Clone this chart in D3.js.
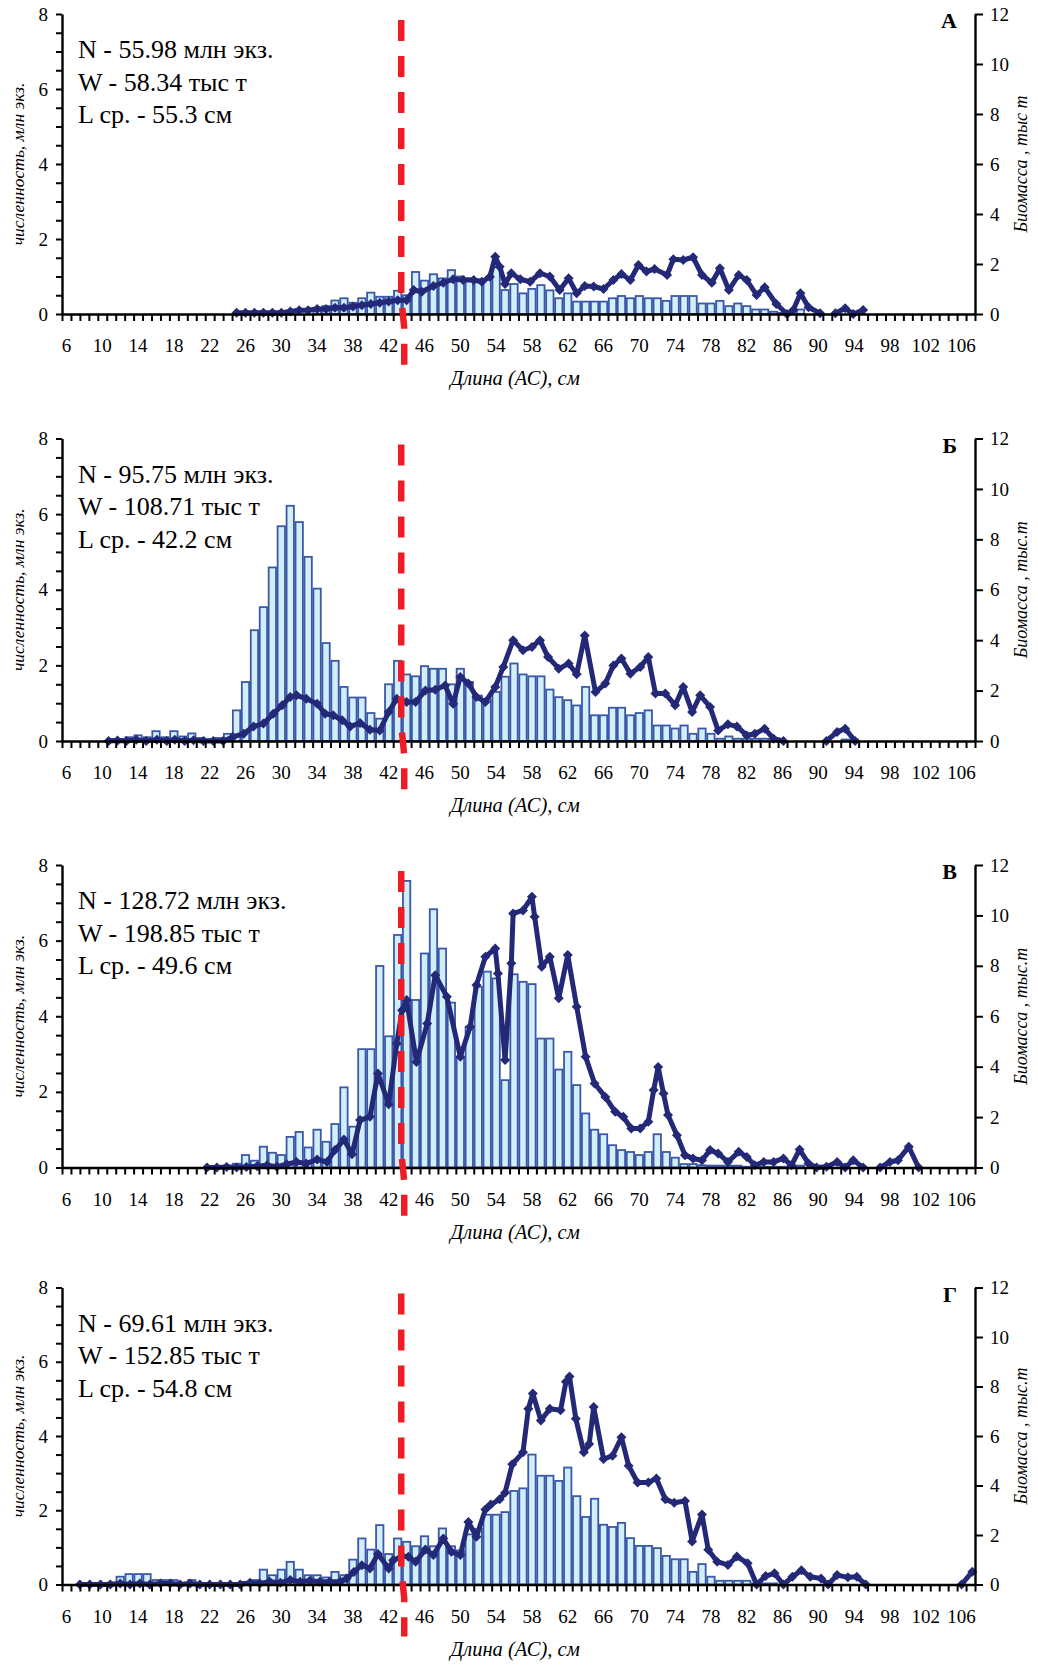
<!DOCTYPE html>
<html><head><meta charset="utf-8">
<script src="https://cdn.jsdelivr.net/npm/d3@7"></script>
<style>body{margin:0;background:#fff}svg{display:block}</style>
</head><body>
<script>
// ---------- DATA ----------
const lengthCategories = d3.range(6, 108);          // 6..107 cm
const xTickLabels = d3.range(6, 107, 4);            // 6,10,...,106
const leftTickValues = d3.range(0, 8.01, 0.5);
const rightTickValues = [0, 2, 4, 6, 8, 10, 12];
const panelLetters = ["А", "Б", "В", "Г"];
const thresholdLength = 43.4;

const statsA = ["N - 55.98 млн экз.", "W - 58.34 тыс т", "L ср. - 55.3 см"];
const statsB = ["N - 95.75 млн экз.", "W - 108.71 тыс т", "L ср. - 42.2 см"];
const statsV = ["N - 128.72 млн экз.", "W - 198.85 тыс т", "L ср. - 49.6 см"];
const statsG = ["N - 69.61 млн экз.", "W - 152.85 тыс т", "L ср. - 54.8 см"];

const leftTitle = "численность, млн экз.";
const rightTitles = ["Биомасса , тыс т", "Биомасса , тыс.т", "Биомасса , тыс.т", "Биомасса , тыс.т"];
const xTitle = "Длина (АС), см";

// numbers (млн экз.) per 1-cm class, first class given by start
const countsStartA = 34;
const countsA = [0.12,0.21,0.36,0.42,0.30,0.42,0.57,0.46,0.46,0.62,0.50,1.12,0.89,1.06,0.95,1.17,1.00,0.95,0.92,0.92,1.25,0.64,0.80,0.55,0.67,0.77,0.63,0.42,0.55,0.33,0.33,0.33,0.33,0.42,0.48,0.42,0.48,0.42,0.42,0.35,0.48,0.48,0.48,0.28,0.28,0.35,0.21,0.28,0.21,0.12,0.12,0.06,0.03,0,0.12];
const countsStartB = 11;
const countsB = [0.05,0.05,0.10,0.15,0.10,0.26,0.10,0.26,0.12,0.20,0.08,0.05,0.08,0.19,0.81,1.56,2.93,3.54,4.59,5.68,6.22,5.79,4.87,4.03,2.59,2.12,1.43,1.15,1.15,0.74,0.59,1.50,2.12,1.76,1.71,1.98,1.91,1.91,1.50,1.91,1.56,1.20,1.10,1.30,1.70,2.05,1.76,1.71,1.71,1.36,1.16,1.08,0.94,1.43,0.68,0.68,0.88,0.88,0.68,0.74,0.81,0.41,0.41,0.33,0.41,0.19,0.33,0.19,0.06,0.12,0.06,0.06,0.06,0.06,0,0,0,0,0,0,0,0,0.04,0.04];
const countsStartV = 24;
const countsV = [0.05,0.10,0.33,0.18,0.55,0.39,0.33,0.81,0.94,0.53,1.00,0.68,1.15,2.12,1.08,3.13,3.13,5.33,3.47,6.15,7.58,4.43,5.66,6.83,5.79,4.36,2.90,3.72,4.78,5.18,5.00,2.31,5.11,4.91,4.85,3.41,3.41,2.59,3.06,2.18,1.43,1.00,0.88,0.59,0.46,0.41,0.33,0.41,0.88,0.41,0.26,0.09,0.09,0.06,0.05,0.05,0.05,0.05,0.02,0.02,0.02,0.02,0.02,0.02,0.05];
const countsStartG = 8;
const countsG = [0.03,0.03,0.03,0.05,0.21,0.28,0.28,0.28,0.12,0.12,0.12,0.04,0.12,0.04,0.04,0.04,0.04,0.04,0.07,0.12,0.40,0.25,0.40,0.61,0.40,0.25,0.25,0.19,0.34,0.25,0.67,1.24,0.94,1.60,0.82,1.24,1.15,1.03,1.30,1.03,1.51,1.03,0.92,1.35,1.50,1.88,1.88,1.95,2.52,2.59,3.50,2.93,2.93,2.79,3.15,2.38,1.82,2.31,1.61,1.55,1.66,1.25,1.04,1.04,0.98,0.77,0.68,0.68,0.34,0.55,0.21,0.10,0.10,0.10,0.10,0.03,0.03,0.03];

// biomass (тыс т): [length, value], null = break in the line
const biomassA = [[25,0.05],[26,0.05],[27,0.05],[28,0.05],[29,0.05],[30,0.05],[31,0.1],[32,0.15],[33,0.15],[34,0.2],[35,0.2],[36,0.25],[37,0.25],[38,0.3],[39,0.35],[40,0.4],[41,0.45],[42,0.5],[43,0.55],[44,0.55],[44.8,0.96],[45.7,0.89],[47,1.12],[48.1,1.25],[49.2,1.39],[50.3,1.36],[51.5,1.36],[52.4,1.29],[53.3,1.49],[53.9,2.29],[54.4,1.89],[55,1.2],[55.7,1.63],[56.7,1.39],[57.8,1.29],[58.9,1.63],[60,1.5],[61.1,0.96],[62.1,1.43],[63,0.83],[63.9,1.12],[64.9,1.1],[66,1.0],[67.1,1.36],[68,1.6],[69,1.36],[69.9,1.96],[70.8,1.7],[71.7,1.8],[73.1,1.56],[73.8,2.19],[74.9,2.16],[76,2.27],[77,1.56],[78.1,1.25],[79,1.83],[80,0.96],[81.1,1.56],[82,1.36],[83.1,0.76],[84,1.07],[85.3,0.4],[86.5,0],[87.2,0.16],[88,0.83],[88.9,0.27],[90.2,0.03],null,[91.9,0.03],[93,0.23],[93.9,0],[95,0.16]];
const biomassB = [[10.7,0],[11.7,0.02],[12.7,0],[13.8,0.05],[14.9,0],[16.1,0.05],[17.2,0],[18.1,0.05],[19.2,0],[20.2,0.03],[21.3,0],[22.4,0],[23.5,0],[24.6,0.16],[25.8,0.29],[26.9,0.58],[28,0.69],[29.1,1.08],[30.1,1.42],[31,1.75],[31.7,1.81],[32.8,1.68],[34,1.48],[34.9,1.08],[35.8,1.02],[36.8,0.82],[37.7,0.58],[38.8,0.71],[39.9,0.45],[41,0.42],[42,1.15],[42.9,1.68],[44,1.55],[45,1.55],[46.1,2.0],[47.2,2.03],[48.3,2.2],[49.2,1.48],[50,2.54],[50.9,2.28],[51.8,1.75],[52.8,1.55],[53.9,2.14],[54.8,2.94],[55.9,4.0],[57,3.6],[58,3.73],[58.9,4.0],[59.8,3.33],[61,2.87],[62.1,3.07],[63,2.65],[63.9,4.19],[65.1,1.94],[66.2,2.28],[67.1,3.0],[68,3.27],[69,2.67],[70.1,2.94],[71,3.33],[71.8,1.88],[72.9,1.88],[74,1.42],[74.9,2.14],[75.9,1.15],[76.8,1.81],[77.9,1.35],[78.8,0.42],[79.9,0.66],[80.9,0.58],[82,0.22],[82.9,0.29],[84,0.49],[85,0.09],[86.1,0],null,[90.9,0],[92.1,0.36],[93,0.49],[94.1,0]];
const biomassV = [[21.7,0],[22.8,0],[23.9,0.02],[25,0],[26.1,0.02],[27.3,0.05],[28.4,0.09],[29.5,0.03],[30.6,0.13],[31.7,0.22],[32.8,0.16],[34,0.32],[35.1,0.22],[36,0.69],[37,1.11],[37.9,0.53],[38.8,1.88],[39.9,2.01],[40.8,3.73],[42,2.51],[42.9,4.92],[43.5,6.24],[44,6.64],[45.1,4.19],[46.3,5.71],[47.2,7.63],[48.5,6.77],[50,4.39],[51.1,5.58],[51.8,7.24],[52.8,8.36],[53.9,8.69],[54.2,7.7],[55,4.26],[55.7,8.1],[55.9,10.08],[57,10.2],[58,10.74],[58.3,9.95],[59.1,7.96],[60,8.36],[61,6.71],[62,8.43],[63,6.38],[64,4.39],[65,3.33],[66.2,2.8],[67.3,2.21],[68.2,2.01],[69.1,1.55],[70.1,1.55],[71,1.81],[71.6,3.07],[72.1,3.99],[72.7,2.94],[73.2,2.08],[74.2,1.28],[75.1,0.49],[76,0.36],[77,0.29],[77.9,0.69],[78.8,0.56],[79.9,0.22],[81.1,0.62],[82,0.42],[82.9,0.09],[83.9,0.22],[85,0.22],[86.1,0.36],[87,0.09],[87.9,0.71],[88.9,0.16],[89.8,0],[90.9,0.03],[92.1,0.22],[93,0],[93.9,0.29],[95,0],null,[96.9,0],[98,0.22],[98.9,0.29],[100.1,0.82],[101.2,0]];
const biomassG = [[7.5,0],[8.6,0],[9.8,0],[10.9,0],[12,0.04],[13.1,0],[14.2,0.04],[15.3,0],[16.5,0.04],[17.6,0.04],[18.7,0],[19.8,0.04],[20.9,0],[22,0],[23.2,0],[24.3,0],[25.4,0],[26.5,0.07],[27.6,0.04],[28.7,0.11],[29.9,0.07],[31,0.18],[32.1,0.11],[33.2,0.15],[34.3,0.11],[35.4,0.11],[36.6,0.11],[37.3,0.24],[38.1,0.51],[39,0.78],[39.9,0.65],[40.8,1.23],[42,0.65],[42.5,0.98],[43.5,1.14],[44.2,1.12],[45,0.92],[46.1,1.41],[47,1.19],[48.1,1.86],[49,1.32],[50,1.19],[50.9,2.53],[51.8,1.93],[52.8,3.03],[53.4,3.23],[54.4,3.44],[55,3.71],[55.8,4.86],[57,5.34],[57.6,7.1],[58.1,7.72],[59,6.63],[60,7.1],[61.2,7.04],[61.8,8.19],[62.2,8.4],[62.9,6.7],[63.8,5.34],[64.4,5.68],[64.9,7.17],[66,5.07],[67,5.2],[68,5.95],[68.8,4.8],[69.8,4.12],[71,4.12],[71.9,4.28],[72.9,3.44],[73.9,3.3],[75.1,3.37],[75.9,1.74],[77,2.83],[77.7,1.4],[78.7,0.92],[79.9,0.79],[80.9,1.13],[82.1,0.86],[83.1,0],[84.1,0.34],[85.1,0.45],[86.1,0],[87.1,0.31],[88.1,0.58],[89.1,0.31],[90.3,0.24],[91.1,0],[92.1,0.38],[93.3,0.29],[94.3,0.31],[95.3,0],null,[106,0],[107.2,0.52]];

// ---------- LAYOUT / STYLE ----------
const panels = [
  {stats: statsA, start: countsStartA, counts: countsA, biomass: biomassA, top: 14,    zero: 314},
  {stats: statsB, start: countsStartB, counts: countsB, biomass: biomassB, top: 438.5, zero: 741},
  {stats: statsV, start: countsStartV, counts: countsV, biomass: biomassV, top: 865,   zero: 1167.5},
  {stats: statsG, start: countsStartG, counts: countsG, biomass: biomassG, top: 1287.5,zero: 1584.5}
];
const SERIF = "Liberation Serif, Tinos, Times New Roman, DejaVu Serif, serif";
const barFill = "#D2EEF8", barStroke = "#3B58A8", lineColor = "#232877", redColor = "#EE1D25";
const X0 = 62, X1 = 975;

const svg = d3.select("body").append("svg").attr("width", 1038).attr("height", 1668)
  .style("font-family", SERIF);

const x = d3.scaleBand().domain(lengthCategories).range([X0, X1]).padding(0);
const bw = x.bandwidth();
const xl = d3.scaleLinear().domain([lengthCategories[0] - 0.5, lengthCategories[lengthCategories.length - 1] + 0.5]).range([X0, X1]);
const boundaries = d3.range(lengthCategories[0] - 0.5, lengthCategories[lengthCategories.length - 1] + 0.51, 1);

const diamond = {draw(ctx, size) { const r = Math.sqrt(size / 2); ctx.moveTo(0, -r); ctx.lineTo(r, 0); ctx.lineTo(0, r); ctx.lineTo(-r, 0); ctx.closePath(); }};
const marker = d3.symbol().type(diamond).size(50);

panels.forEach((p, i) => {
  const g = svg.append("g");
  const yL = d3.scaleLinear().domain([0, 8]).range([p.zero, p.top]);
  const yR = d3.scaleLinear().domain([0, 12]).range([p.zero, p.top]);

  const barData = p.counts.map((v, k) => ({len: p.start + k, v})).filter(d => d.v > 0);
  g.append("g").selectAll("rect").data(barData).join("rect")
    .attr("x", d => x(d.len) + 0.8).attr("width", bw - 1.6)
    .attr("y", d => yL(d.v)).attr("height", d => yL(0) - yL(d.v))
    .attr("fill", barFill).attr("stroke", barStroke).attr("stroke-width", 1.8);

  const line = d3.line().defined(d => d !== null).x(d => xl(d[0])).y(d => yR(d[1]));
  g.append("path").attr("d", line(p.biomass)).attr("fill", "none")
    .attr("stroke", lineColor).attr("stroke-width", 5).attr("stroke-linejoin", "round");
  g.append("g").selectAll("path").data(p.biomass.filter(d => d !== null)).join("path")
    .attr("transform", d => `translate(${xl(d[0])},${yR(d[1])})`)
    .attr("d", marker).attr("fill", lineColor);

  // x axis: minor ticks at class boundaries
  const xTickAxis = d3.axisBottom(xl).tickValues(boundaries).tickSize(7).tickSizeOuter(0).tickFormat("");
  const gx = g.append("g").attr("transform", `translate(0,${p.zero})`).call(xTickAxis);
  gx.select(".domain").attr("stroke", "#000").attr("stroke-width", 2.4);
  gx.selectAll(".tick line").attr("stroke", "#000").attr("stroke-width", 2);
  // x labels
  const xLabAxis = d3.axisBottom(x).tickValues(xTickLabels).tickSize(0).tickPadding(25);
  const gxl = g.append("g").attr("transform", `translate(0,${p.zero})`).call(xLabAxis);
  gxl.select(".domain").remove();
  gxl.selectAll("text").attr("font-family", SERIF).attr("font-size", 19).attr("fill", "#000");

  // left axis
  const gy = g.append("g").attr("transform", `translate(${X0},0)`)
    .call(d3.axisLeft(yL).tickValues(leftTickValues).tickSize(6).tickPadding(8).tickSizeOuter(0)
      .tickFormat(d => (d % 2 === 0 ? d : "")));
  gy.select(".domain").attr("stroke", "#000").attr("stroke-width", 2.4);
  gy.selectAll(".tick line").attr("stroke", "#000").attr("stroke-width", 2);
  gy.selectAll("text").attr("font-family", SERIF).attr("font-size", 19).attr("fill", "#000");

  // right axis
  const gr = g.append("g").attr("transform", `translate(${X1},0)`)
    .call(d3.axisRight(yR).tickValues(rightTickValues).tickSize(8).tickPadding(7).tickSizeOuter(0));
  gr.select(".domain").attr("stroke", "#000").attr("stroke-width", 2.4);
  gr.selectAll(".tick line").attr("stroke", "#000").attr("stroke-width", 2);
  gr.selectAll("text").attr("font-family", SERIF).attr("font-size", 19).attr("fill", "#000");

  // titles
  const mid = (p.top + p.zero) / 2;
  g.append("text").attr("transform", `translate(20,${mid}) rotate(-90)`)
    .attr("text-anchor", "middle").attr("dominant-baseline", "middle")
    .attr("font-style", "italic").attr("font-size", 17.5).text(leftTitle);
  g.append("text").attr("transform", `translate(1023,${mid}) rotate(-90)`)
    .attr("text-anchor", "middle").attr("dominant-baseline", "middle")
    .attr("font-style", "italic").attr("font-size", 18).text(rightTitles[i]);
  g.append("text").attr("x", 515).attr("y", p.zero + 71).attr("text-anchor", "middle")
    .attr("font-style", "italic").attr("font-size", 20.5).text(xTitle);

  // stats text
  g.append("g").selectAll("text").data(p.stats).join("text")
    .attr("x", 78).attr("y", (d, k) => p.top + 44 + k * 32.5)
    .attr("font-size", 26).text(d => d);

  // panel letter
  g.append("text").attr("x", 957).attr("y", p.top + 14).attr("text-anchor", "end")
    .attr("font-weight", "bold").attr("font-size", 22).text(panelLetters[i]);

  // red dashed threshold line
  const tx = xl(thresholdLength);
  const redPts = [[tx, p.top + 6], [tx, p.zero - 16], [tx + 3, p.zero + 14], [tx + 3, p.zero + 52]];
  g.append("path").attr("d", d3.line()(redPts)).attr("fill", "none")
    .attr("stroke", redColor).attr("stroke-width", 6.5).attr("stroke-dasharray", "21,15");
});
</script>
</body></html>
